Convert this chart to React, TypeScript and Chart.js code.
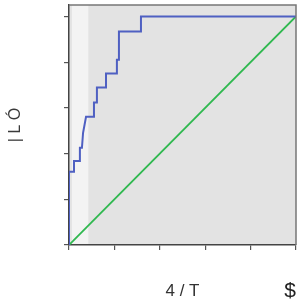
import React, { useEffect, useRef } from "react";
import { Chart, registerables } from "chart.js";

Chart.register(...registerables);

// ROC-like curve (false positive rate, true positive rate)
const fpr = [0, 0, 0.022, 0.022, 0.048, 0.048, 0.057, 0.062, 0.075, 0.11, 0.11, 0.123, 0.123, 0.163, 0.163, 0.211, 0.211, 0.22, 0.22, 0.317, 0.317, 1];
const tpr = [0, 0.32, 0.32, 0.368, 0.368, 0.425, 0.425, 0.491, 0.561, 0.561, 0.623, 0.623, 0.689, 0.689, 0.75, 0.75, 0.811, 0.811, 0.934, 0.934, 1, 1];
// chance diagonal
const diagX = [0, 1];
const diagY = [0, 1];

const tickValues = [0, 0.2, 0.4, 0.6, 0.8, 1];
const yTitle = "| L Ó";
const xTitle = "4 / T";
const cornerMark = "$";

const FONT = "'Liberation Sans', 'DejaVu Sans', sans-serif";

const plotPlugin = {
  id: "plotDecor",
  beforeDraw(chart: any) {
    const { ctx, chartArea: a, scales } = chart;
    ctx.save();
    ctx.fillStyle = "#e3e3e3";
    ctx.fillRect(a.left, a.top, a.right - a.left, a.bottom - a.top);
    const x0 = scales.x.getPixelForValue(0.013);
    const x1 = scales.x.getPixelForValue(0.085);
    ctx.fillStyle = "#f3f3f3";
    ctx.fillRect(x0, a.top, x1 - x0, a.bottom - a.top);
    ctx.restore();
  },
  afterDraw(chart: any) {
    const { ctx, chartArea: a, width, height } = chart;
    ctx.save();
    ctx.strokeStyle = "#777";
    ctx.lineWidth = 1.5;
    ctx.beginPath();
    ctx.moveTo(a.left, a.top);
    ctx.lineTo(a.right, a.top);
    ctx.lineTo(a.right, a.bottom);
    ctx.stroke();
    ctx.fillStyle = "#222";
    ctx.font = `21px ${FONT}`;
    ctx.textAlign = "center";
    ctx.textBaseline = "middle";
    ctx.fillText(cornerMark, width - 10, height - 14);
    ctx.restore();
  },
};

export default function App() {
  const ref = useRef<HTMLCanvasElement | null>(null);

  useEffect(() => {
    document.body.style.margin = "0";
    const canvas = ref.current;
    if (!canvas) return;
    const chart = new Chart(canvas, {
      type: "scatter",
      data: {
        datasets: [
          {
            data: fpr.map((x, i) => ({ x, y: tpr[i] })),
            showLine: true,
            borderColor: "#4f60c2",
            borderWidth: 2,
            pointRadius: 0,
            fill: false,
          },
          {
            data: diagX.map((x, i) => ({ x, y: diagY[i] })),
            showLine: true,
            borderColor: "#2fb84f",
            borderWidth: 1.8,
            pointRadius: 0,
            fill: false,
          },
        ],
      },
      options: {
        animation: false,
        responsive: true,
        maintainAspectRatio: false,
        layout: { padding: { top: 5, right: 4, left: 0, bottom: 0 } },
        plugins: { legend: { display: false }, tooltip: { enabled: false } },
        scales: {
          x: {
            type: "linear",
            min: 0,
            max: 1,
            z: 1,
            afterBuildTicks: (s: any) => {
              s.ticks = tickValues.map((v) => ({ value: v }));
            },
            afterFit: (s: any) => {
              s.height = 60;
            },
            ticks: { display: false },
            grid: { drawOnChartArea: false, tickLength: 5, color: "#555", lineWidth: 1.2 },
            border: { color: "#444", width: 1.5 },
            title: {
              display: true,
              text: xTitle,
              color: "#333",
              font: { size: 17, family: FONT },
              padding: { top: 0, bottom: 3 },
            },
          },
          y: {
            type: "linear",
            min: 0,
            max: 1.05,
            z: 1,
            afterBuildTicks: (s: any) => {
              s.ticks = tickValues.map((v) => ({ value: v }));
            },
            afterFit: (s: any) => {
              s.width = 69;
            },
            ticks: { display: false },
            grid: { drawOnChartArea: false, tickLength: 5, color: "#555", lineWidth: 1.2 },
            border: { color: "#444", width: 1.5 },
            title: {
              display: true,
              text: yTitle,
              color: "#3a3a3a",
              font: { size: 16, family: FONT },
              padding: { top: 6, bottom: 0 },
            },
          },
        },
      },
      plugins: [plotPlugin],
    } as any);
    return () => chart.destroy();
  }, []);

  return (
    <div style={{ position: "fixed", left: 0, top: 0, width: 300, height: 305 }}>
      <canvas ref={ref} />
    </div>
  );
}
